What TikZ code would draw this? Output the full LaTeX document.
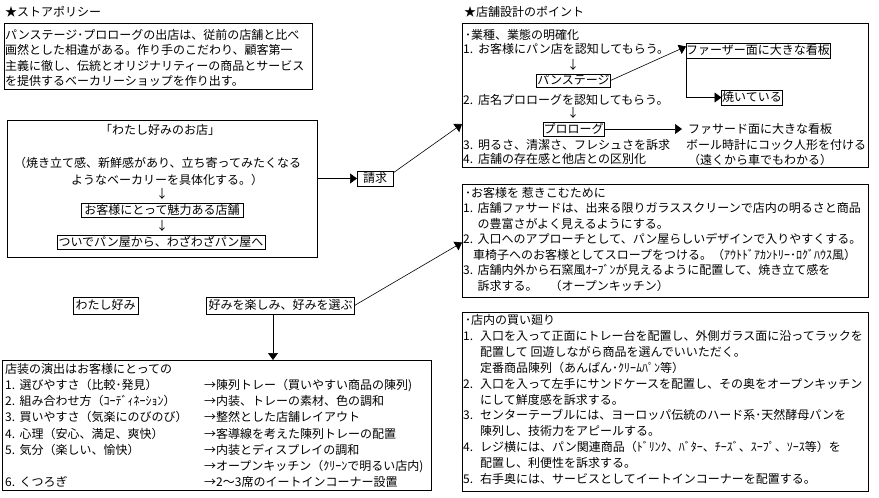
\documentclass[tikz,border=0pt]{standalone}
\usepackage{fontspec}
\newfontfamily\jp{Noto Sans CJK JP}
\usetikzlibrary{arrows.meta}
\newcommand\jpfs{\jp\fontsize{12pt}{14pt}\selectfont}
\newcommand\numb[2][14.5pt]{\makebox[#1][l]{#2.}}
\begin{document}
\begin{tikzpicture}[x=1pt,y=-1pt,
  txt/.style={anchor=west,inner sep=0pt,font=\jpfs,text height=10pt,text depth=1.4pt},
  txtc/.style={txt,anchor=center},
  frame/.style={draw,line width=0.8pt,inner sep=0pt,outer sep=0pt,anchor=north west},
  lbl/.style={draw,line width=0.8pt,inner sep=0pt,outer sep=0pt,font=\jpfs,text height=10pt,text depth=1.4pt},
  conn/.style={line width=0.6pt},
  arr/.style={conn,-{Triangle[length=7pt,width=10pt]}}]
\fill[white] (0,0) rectangle (879,498);
\useasboundingbox (0,0) rectangle (879,498);

% ---------- left column ----------
\node[txt] (hl) at (5,12) {★ストアポリシー};
\node[frame,minimum width=308pt,minimum height=66pt] (p1) at (4,23) {};
\node[txt] (p1a) at (5,35) {パンステージ･プロローグの出店は、従前の店舗と比べ};
\node[txt] (p1b) at (5,50) {画然とした相違がある。作り手のこだわり、顧客第一};
\node[txt] (p1c) at (5,66) {主義に徹し、伝統とオリジナリティーの商品とサービス};
\node[txt] (p1d) at (5,81) {を提供するベーカリーショップを作り出す。};

\node[frame,minimum width=310pt,minimum height=137pt] (b2) at (7,120) {};
\node[txtc] (b2a) at (160,130) {「わたし好みのお店」};
\node[txt] (b2b) at (14,163) {（焼き立て感、新鮮感があり、立ち寄ってみたくなる};
\node[txt] (b2c) at (71,180) {ようなベーカリーを具体化する。）};
\node[txtc] (d1) at (162,194) {↓};
\node[lbl,minimum width=162pt,minimum height=14pt] (mi) at (162,210) {お客様にとって魅力ある店舗};
\node[txtc] (d2) at (162,226) {↓};
\node[lbl,minimum width=208pt,minimum height=14pt] (tsu) at (161,242) {ついでパン屋から、わざわざパン屋へ};

\node[lbl,minimum width=36pt,minimum height=15pt] (qq) at (375,178.5) {請求};

\node[lbl,minimum width=65pt,minimum height=17pt] (wk) at (105.5,305.5) {わたし好み};
\node[lbl,minimum width=148pt,minimum height=17pt] (kk) at (280.5,305.5) {好みを楽しみ、好みを選ぶ};

\node[frame,minimum width=429pt,minimum height=130pt] (b4) at (2,360) {};
\node[txt] (l0) at (5,369) {店装の演出はお客様にとっての};
\node[txt] (l1) at (5,385) {\numb{1}選びやすさ（比較･発見）};
\node[txt] (m1) at (204,385) {→陳列トレー（買いやすい商品の陳列)};
\node[txt] (l2) at (5,401) {\numb{2}組み合わせ方（ｺｰﾃﾞｨﾈｰｼｮﾝ）};
\node[txt] (m2) at (204,401) {→内装、トレーの素材、色の調和};
\node[txt] (l3) at (5,417) {\numb{3}買いやすさ（気楽にのびのび）};
\node[txt] (m3) at (204,417) {→整然とした店舗レイアウト};
\node[txt] (l4) at (5,434) {\numb{4}心理（安心、満足、爽快）};
\node[txt] (m4) at (204,434) {→客導線を考えた陳列トレーの配置};
\node[txt] (l5) at (5,450) {\numb{5}気分（楽しい、愉快）};
\node[txt] (m5) at (204,450) {→内装とディスプレイの調和};
\node[txt] (m6) at (204,466) {→オープンキッチン（ｸﾘｰﾝで明るい店内)};
\node[txt] (l6) at (5,482) {\numb{6}くつろぎ};
\node[txt] (m7) at (204,482) {→2～3席のイートインコーナー設置};

% ---------- right column ----------
\node[txt] (hr) at (464,12) {★店舗設計のポイント};
\node[frame,minimum width=406pt,minimum height=144pt] (r1) at (462,23) {};
\node[txt] (r1a) at (465,35) {･業種、業態の明確化};
\node[txt] (r1b) at (463,49) {\numb[15pt]{1}お客様にパン店を認知してもらう。};
\node[txtc] (d3) at (573,65) {↓};
\node[lbl,minimum width=74pt,minimum height=13pt] (pan) at (573.5,80.5) {パンステージ};
\node[txt] (r1c) at (463,100) {\numb[15pt]{2}店名プロローグを認知してもらう。};
\node[txtc] (d4) at (573,113) {↓};
\node[lbl,minimum width=61pt,minimum height=14pt] (pro) at (573.5,129) {プロローグ};
\node[txt] (r1d) at (463,145) {\numb[15pt]{3}明るさ、清潔さ、フレシュさを訴求};
\node[txt] (r1e) at (463,159) {\numb[15pt]{4}店舗の存在感と他店との区別化};
\node[lbl,minimum width=144pt,minimum height=15pt] (fa) at (758,50.5) {ファーザー面に大きな看板};
\node[lbl,minimum width=61pt,minimum height=15pt] (yaku) at (752,97.5) {焼いている};
\node[txt] (fs) at (688,129) {ファサード面に大きな看板};
\node[txt] (fs2) at (686,145) {ボール時計にコック人形を付ける};
\node[txt] (fs3) at (688,160) {（遠くから車でもわかる）};

\node[frame,minimum width=406pt,minimum height=113pt] (r2) at (462,184) {};
\node[txt] (r2a) at (465,193) {･お客様を 惹きこむために};
\node[txt] (r2b) at (463,208) {\numb{1}店舗ファサードは、出来る限りガラススクリーンで店内の明るさと商品};
\node[txt] (r2c) at (477.5,224) {の豊富さがよく見えるようにする。};
\node[txt] (r2d) at (463,239) {\numb{2}入口へのアプローチとして、パン屋らしいデザインで入りやすくする。};
\node[txt] (r2e) at (473,255) {車椅子へのお客様としてスロープをつける。（ｱｳﾄﾄﾞｱｶﾝﾄﾘｰ･ﾛｸﾞﾊｳｽ風）};
\node[txt] (r2f) at (463,270) {\numb{3}店舗内外から石窯風ｵｰﾌﾞﾝが見えるように配置して、焼き立て感を};
\node[txt] (r2g) at (477.5,286) {訴求する。　（オープンキッチン）};

\node[frame,minimum width=406pt,minimum height=179pt] (r3) at (462,312) {};
\node[txt] (r3a) at (465,320) {･店内の買い廻り};
\node[txt] (r3b) at (463,336) {\numb[17pt]{1}入口を入って正面にトレー台を配置し、外側ガラス面に沿ってラックを};
\node[txt] (r3c) at (480,352) {配置して 回遊しながら商品を選んでいいただく。};
\node[txt] (r3d) at (480,368) {定番商品陳列（あんぱん･ｸﾘｰﾑﾊﾟﾝ等）};
\node[txt] (r3e) at (463,384) {\numb[17pt]{2}入口を入って左手にサンドケースを配置し、その奥をオープンキッチン};
\node[txt] (r3f) at (480,400) {にして鮮度感を訴求する。};
\node[txt] (r3g) at (463,415) {\numb[17pt]{3}センターテーブルには、ヨーロッパ伝統のハード系･天然酵母パンを};
\node[txt] (r3h) at (480,431) {陳列し、技術力をアピールする。};
\node[txt] (r3i) at (463,447) {\numb[17pt]{4}レジ横には、パン関連商品（ﾄﾞﾘﾝｸ、ﾊﾞﾀｰ、ﾁｰｽﾞ、ｽｰﾌﾟ、ｿｰｽ等）を};
\node[txt] (r3j) at (480,463) {配置し、利便性を訴求する。};
\node[txt] (r3k) at (463,479) {\numb[17pt]{5}右手奥には、サービスとしてイートインコーナーを配置する。};

% ---------- connectors ----------
\draw[arr] (b2.east |- qq.west) -- (qq.west);
\draw[arr] ([yshift=-2pt]qq.north east) -- ([yshift=-29pt]r1.west);
\draw[arr] (kk.east) -- ([yshift=-2pt]r2.west);
\draw[arr] ([xshift=-7.5pt]kk.south) -- ([xshift=-7.5pt]kk.south |- b4.north);
\draw[arr] (pan.east) -- ([yshift=4pt]fa.west);
\draw[arr] (fa.south west) |- (yaku.west);
\draw[arr] (pro.east) -- ([xshift=-6pt]fs.west);
\end{tikzpicture}
\end{document}
